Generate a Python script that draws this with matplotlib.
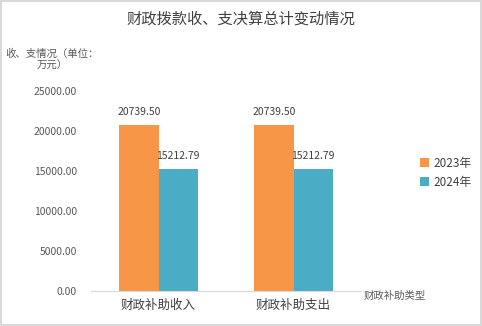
import matplotlib
matplotlib.use("Agg")
import matplotlib.pyplot as plt
import numpy as np

plt.rcParams['font.family'] = ['Noto Sans CJK SC', 'DejaVu Sans']

categories = ['财政补助收入', '财政补助支出']
series_names = ['2023年', '2024年']
values_2023 = [20739.50, 20739.50]
values_2024 = [15212.79, 15212.79]
yticks = [0, 5000, 10000, 15000, 20000, 25000]

orange = '#F79646'
blue = '#4BACC6'
text_gray = '#595959'

fig = plt.figure(figsize=(4.82, 3.26), dpi=100)
fig.patch.set_edgecolor('#d9d9d9')
fig.patch.set_linewidth(1.5)

ax = fig.add_axes([91 / 482, 35 / 326, 270 / 482, 200 / 326])
x = np.arange(len(categories))
w = 0.29
b1 = ax.bar(x - w / 2, values_2023, w, color=orange, label=series_names[0])
b2 = ax.bar(x + w / 2, values_2024, w, color=blue, label=series_names[1])

for bars in (b1, b2):
    for rect in bars:
        ax.annotate('%.2f' % rect.get_height(),
                    (rect.get_x() + rect.get_width() / 2, rect.get_height()),
                    xytext=(0, 6), textcoords='offset points',
                    ha='center', va='bottom', fontsize=7.5, color='#404040')

ax.set_xlim(-0.5, 1.5)
ax.set_ylim(0, 25000)
ax.set_yticks(yticks)
ax.set_yticklabels(['%.2f' % v for v in yticks], fontsize=7.5, color=text_gray)
ax.set_xticks(x)
ax.set_xticklabels(categories, fontsize=9, color='#404040')
ax.tick_params(axis='both', length=0)
ax.tick_params(axis='y', pad=10)
ax.tick_params(axis='x', pad=6)
for s in ['top', 'right', 'left']:
    ax.spines[s].set_visible(False)
ax.spines['bottom'].set_color('#d9d9d9')

fig.text(0.5, 1 - 19 / 326, '财政拨款收、支决算总计变动情况', ha='center', va='center',
         fontsize=11, color='#404040')
fig.text(52 / 482, 1 - 54 / 326, '收、支情况（单位：', ha='center', va='center',
         fontsize=7.5, color=text_gray)
fig.text(52 / 482, 1 - 66 / 326, '万元）', ha='center', va='center',
         fontsize=7.5, color=text_gray)
fig.text(395 / 482, 1 - 296 / 326, '财政补助类型', ha='center', va='center',
         fontsize=7.5, color=text_gray)

fig.legend(loc='center left', bbox_to_anchor=(409 / 482, 1 - 173 / 326), frameon=False,
           fontsize=8.5, handlelength=0.8, handleheight=0.8, handletextpad=0.4,
           labelspacing=0.5, labelcolor='#404040')

fig.savefig('out.png', dpi=100)
